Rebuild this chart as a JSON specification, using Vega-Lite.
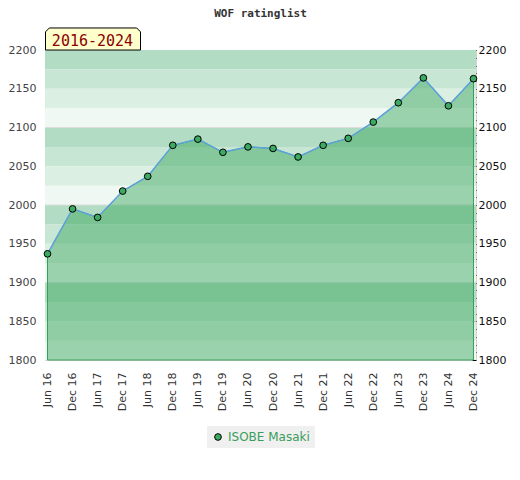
{
  "$schema": "https://vega.github.io/schema/vega-lite/v6.json",
  "autosize": "none",
  "width": 431,
  "height": 310,
  "padding": {"left": 45, "top": 50, "right": 44, "bottom": 120},
  "background": "white",
  "title": {
    "text": "WOF ratinglist",
    "font": "DejaVu Sans Mono",
    "fontSize": 11,
    "fontWeight": "bold",
    "color": "#333333",
    "anchor": "middle",
    "offset": 7
  },
  "config": {
    "view": {"stroke": "#d4d4d4", "strokeWidth": 1},
    "axis": {
      "labelFont": "DejaVu Sans",
      "labelFontSize": 11,
      "grid": false,
      "domain": false,
      "title": null
    },
    "legend": {"labelFont": "DejaVu Sans"}
  },
  "datasets": {
    "ratings": [
      {"period": "Jun 16", "rating": 1937, "player": "ISOBE Masaki"},
      {"period": "Dec 16", "rating": 1995, "player": "ISOBE Masaki"},
      {"period": "Jun 17", "rating": 1984, "player": "ISOBE Masaki"},
      {"period": "Dec 17", "rating": 2018, "player": "ISOBE Masaki"},
      {"period": "Jun 18", "rating": 2037, "player": "ISOBE Masaki"},
      {"period": "Dec 18", "rating": 2077, "player": "ISOBE Masaki"},
      {"period": "Jun 19", "rating": 2085, "player": "ISOBE Masaki"},
      {"period": "Dec 19", "rating": 2068, "player": "ISOBE Masaki"},
      {"period": "Jun 20", "rating": 2075, "player": "ISOBE Masaki"},
      {"period": "Dec 20", "rating": 2073, "player": "ISOBE Masaki"},
      {"period": "Jun 21", "rating": 2062, "player": "ISOBE Masaki"},
      {"period": "Dec 21", "rating": 2077, "player": "ISOBE Masaki"},
      {"period": "Jun 22", "rating": 2086, "player": "ISOBE Masaki"},
      {"period": "Dec 22", "rating": 2107, "player": "ISOBE Masaki"},
      {"period": "Jun 23", "rating": 2132, "player": "ISOBE Masaki"},
      {"period": "Dec 23", "rating": 2164, "player": "ISOBE Masaki"},
      {"period": "Jun 24", "rating": 2128, "player": "ISOBE Masaki"},
      {"period": "Dec 24", "rating": 2163, "player": "ISOBE Masaki"}
    ],
    "bands": [
      {"lo": 2175, "hi": 2200, "shade": "a"},
      {"lo": 2150, "hi": 2175, "shade": "b"},
      {"lo": 2125, "hi": 2150, "shade": "c"},
      {"lo": 2100, "hi": 2125, "shade": "d"},
      {"lo": 2075, "hi": 2100, "shade": "a"},
      {"lo": 2050, "hi": 2075, "shade": "b"},
      {"lo": 2025, "hi": 2050, "shade": "c"},
      {"lo": 2000, "hi": 2025, "shade": "d"},
      {"lo": 1975, "hi": 2000, "shade": "a"},
      {"lo": 1950, "hi": 1975, "shade": "b"},
      {"lo": 1925, "hi": 1950, "shade": "c"},
      {"lo": 1900, "hi": 1925, "shade": "d"},
      {"lo": 1875, "hi": 1900, "shade": "a"},
      {"lo": 1850, "hi": 1875, "shade": "b"},
      {"lo": 1825, "hi": 1850, "shade": "c"},
      {"lo": 1800, "hi": 1825, "shade": "d"}
    ],
    "grid": [{"v": 1900}, {"v": 2000}, {"v": 2100}],
    "range": [{"label": "2016-2024", "period": "Jun 16", "top": 2200}]
  },
  "layer": [
    {
      "data": {"name": "bands"},
      "mark": {"type": "rect"},
      "encoding": {
        "y": {
          "field": "hi",
          "type": "quantitative",
          "scale": {"domain": [1800, 2200], "zero": false, "nice": false},
          "axis": {
            "orient": "left",
            "values": [1800, 1850, 1900, 1950, 2000, 2050, 2100, 2150, 2200],
            "format": "d",
            "ticks": false,
            "labelPadding": 9,
            "labelColor": "#444444"
          }
        },
        "y2": {"field": "lo"},
        "color": {
          "field": "shade",
          "type": "nominal",
          "scale": {
            "domain": ["a", "b", "c", "d"],
            "range": ["#b3dcc4", "#c8e6d4", "#dcefe3", "#eff8f2"]
          },
          "legend": null
        }
      }
    },
    {
      "data": {"name": "grid"},
      "mark": {"type": "rule", "color": "#dddddd", "strokeWidth": 1},
      "encoding": {
        "y": {"field": "v", "type": "quantitative", "axis": null}
      }
    },
    {
      "data": {"name": "ratings"},
      "mark": {
        "type": "area",
        "fill": "#34a458",
        "fillOpacity": 0.45,
        "stroke": "#3a9e5a",
        "strokeWidth": 1
      },
      "encoding": {
        "x": {
          "field": "period",
          "type": "nominal",
          "scale": {
            "type": "point",
            "padding": 0.1,
            "domain": ["Jun 16", "Dec 16", "Jun 17", "Dec 17", "Jun 18", "Dec 18", "Jun 19", "Dec 19", "Jun 20", "Dec 20", "Jun 21", "Dec 21", "Jun 22", "Dec 22", "Jun 23", "Dec 23", "Jun 24", "Dec 24"]
          },
          "axis": {
            "labelAngle": -90,
            "labelAlign": "right",
            "labelBaseline": "middle",
            "ticks": false,
            "labelPadding": 12,
            "labelColor": "#333333"
          }
        },
        "y": {
          "field": "rating",
          "type": "quantitative",
          "axis": {
            "orient": "right",
            "values": [1800, 1810, 1820, 1830, 1840, 1850, 1860, 1870, 1880, 1890, 1900, 1910, 1920, 1930, 1940, 1950, 1960, 1970, 1980, 1990, 2000, 2010, 2020, 2030, 2040, 2050, 2060, 2070, 2080, 2090, 2100, 2110, 2120, 2130, 2140, 2150, 2160, 2170, 2180, 2190, 2200],
            "format": "d",
            "labelExpr": "datum.value % 50 == 0 ? datum.label : ''",
            "labelOverlap": false,
            "labelFlush": false,
            "tickSize": -4,
            "tickColor": "#000000",
            "labelPadding": 6,
            "labelColor": "#111111"
          }
        },
        "y2": {"datum": 1800}
      }
    },
    {
      "data": {"name": "ratings"},
      "mark": {"type": "line", "color": "#5fa2dc", "strokeWidth": 1.5},
      "encoding": {
        "x": {"field": "period", "type": "nominal"},
        "y": {"field": "rating", "type": "quantitative", "axis": null}
      }
    },
    {
      "data": {"name": "ratings"},
      "mark": {
        "type": "point",
        "filled": true,
        "size": 45,
        "stroke": "#000000",
        "strokeWidth": 1,
        "opacity": 1
      },
      "encoding": {
        "x": {"field": "period", "type": "nominal"},
        "y": {"field": "rating", "type": "quantitative", "axis": null},
        "color": {
          "field": "player",
          "type": "nominal",
          "scale": {"range": ["#3caa60"]},
          "legend": {
            "title": null,
            "orient": "none",
            "legendX": 162,
            "legendY": 376,
            "direction": "horizontal",
            "fillColor": "#f0f0f0",
            "padding": 5,
            "symbolType": "circle",
            "symbolSize": 45,
            "symbolStrokeColor": "#000000",
            "symbolStrokeWidth": 1,
            "symbolOpacity": 1,
            "labelColor": "#3a9e5a",
            "labelFontSize": 12
          }
        }
      }
    },
    {
      "data": {"name": "range"},
      "mark": {
        "type": "point",
        "shape": "M -1 0.232 L -1 -0.15 L -0.92 -0.232 L 0.92 -0.232 L 1 -0.15 L 1 0.232 Z",
        "size": 9025,
        "filled": true,
        "fill": "#ffffcc",
        "stroke": "#000000",
        "strokeWidth": 1,
        "opacity": 1,
        "xOffset": 45.5,
        "yOffset": -11
      },
      "encoding": {
        "x": {"field": "period", "type": "nominal"},
        "y": {"field": "top", "type": "quantitative", "axis": null}
      }
    },
    {
      "data": {"name": "range"},
      "mark": {
        "type": "text",
        "font": "DejaVu Sans Mono",
        "fontSize": 15,
        "color": "#8b0000",
        "align": "center",
        "baseline": "middle",
        "dx": 45,
        "dy": -9
      },
      "encoding": {
        "x": {"field": "period", "type": "nominal"},
        "y": {"field": "top", "type": "quantitative", "axis": null},
        "text": {"field": "label"}
      }
    }
  ],
  "resolve": {
    "scale": {"color": "independent"},
    "axis": {"y": "independent"}
  }
}
